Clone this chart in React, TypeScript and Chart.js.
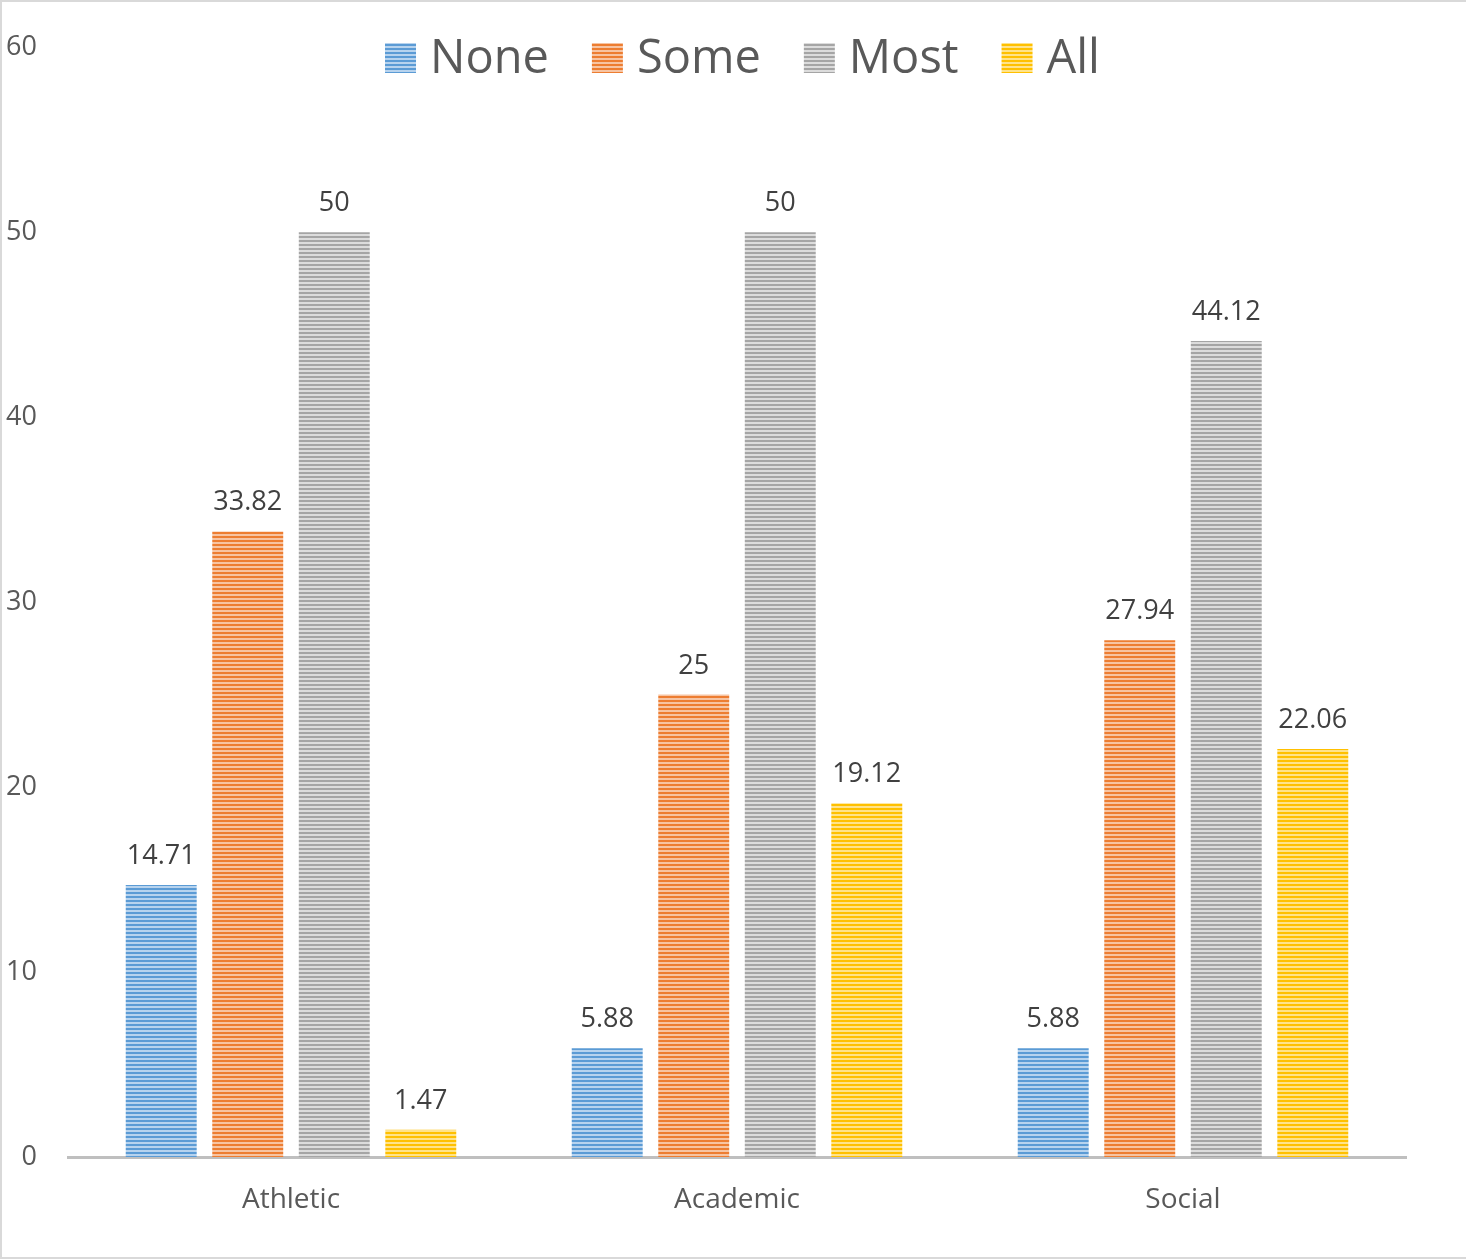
import React, { useEffect, useRef } from "react";
import { Chart, registerables } from "chart.js";

Chart.register(...registerables);

const categories = ["Athletic", "Academic", "Social"];
const seriesNames = ["None", "Some", "Most", "All"];
const noneValues = [14.71, 5.88, 5.88];
const someValues = [33.82, 25, 27.94];
const mostValues = [50, 50, 44.12];
const allValues = [1.47, 19.12, 22.06];
const yTicks = [0, 10, 20, 30, 40, 50, 60];

const seriesColors = ["#5b9bd5", "#ed7d31", "#a5a5a5", "#ffc000"];
const seriesTints = ["#b7d3ee", "#f7c4a2", "#dcdcdc", "#ffe38a"];

const FONT = '"Open Sans", "Noto Sans", sans-serif';
const TEXT = "#595959";

// Horizontal line fill: solid rows alternating with a pale tint.
function stripePattern(color: string, tint: string): CanvasPattern | string {
  const c = document.createElement("canvas");
  c.width = 4;
  c.height = 4;
  const g = c.getContext("2d");
  if (!g) return color;
  g.fillStyle = tint;
  g.fillRect(0, 0, 4, 4);
  g.fillStyle = color;
  g.fillRect(0, 0, 4, 2);
  return g.createPattern(c, "repeat") || color;
}

const valueLabels = {
  id: "valueLabels",
  afterDatasetsDraw(chart: any) {
    const ctx = chart.ctx;
    ctx.save();
    ctx.font = `27px ${FONT}`;
    ctx.fillStyle = "#404040";
    ctx.textAlign = "center";
    ctx.textBaseline = "alphabetic";
    chart.data.datasets.forEach((ds: any, di: number) => {
      const meta = chart.getDatasetMeta(di);
      meta.data.forEach((bar: any, i: number) => {
        ctx.fillText(String(ds.data[i]), bar.x, bar.y - 21);
      });
    });
    ctx.restore();
  },
};

const topLegend = {
  id: "topLegend",
  afterDraw(chart: any) {
    const ctx = chart.ctx;
    ctx.save();
    ctx.font = `47px ${FONT}`;
    const box = 31;
    const boxGap = 14;
    const itemGap = 43;
    const widths = chart.data.datasets.map((d: any) => ctx.measureText(d.label).width);
    const total =
      widths.reduce((a: number, b: number) => a + b, 0) +
      widths.length * (box + boxGap) +
      (widths.length - 1) * itemGap;
    let x = 742.5 - total / 2;
    const baseline = 73;
    chart.data.datasets.forEach((d: any, i: number) => {
      ctx.fillStyle = d.backgroundColor;
      ctx.fillRect(x, baseline - 30, box, 30);
      x += box + boxGap;
      ctx.fillStyle = TEXT;
      ctx.textBaseline = "alphabetic";
      ctx.textAlign = "left";
      ctx.fillText(d.label, x, baseline);
      x += widths[i] + itemGap;
    });
    ctx.restore();
  },
};

const frame = {
  id: "frame",
  afterDraw(chart: any) {
    const ctx = chart.ctx;
    ctx.save();
    ctx.strokeStyle = "#d9d9d9";
    ctx.lineWidth = 2;
    ctx.strokeRect(1, 1, chart.width + 10, chart.height - 3);
    ctx.restore();
  },
};

export default function App() {
  const ref = useRef<HTMLCanvasElement | null>(null);

  useEffect(() => {
    document.body.style.margin = "0";
    if (!ref.current) return;
    const seriesValues = [noneValues, someValues, mostValues, allValues];
    const chart = new Chart(ref.current, {
      type: "bar",
      data: {
        labels: categories,
        datasets: seriesNames.map((name, i) => ({
          label: name,
          data: seriesValues[i],
          backgroundColor: stripePattern(seriesColors[i], seriesTints[i]) as any,
          borderWidth: 0,
          categoryPercentage: 0.776,
          barPercentage: 0.82,
        })),
      },
      options: {
        responsive: false,
        animation: false,
        layout: { padding: { top: 46, right: 60, left: 0, bottom: 0 } },
        plugins: {
          legend: { display: false },
          tooltip: { enabled: false },
        },
        scales: {
          x: {
            grid: { display: false, drawTicks: false },
            border: { display: true, color: "#bfbfbf", width: 3 },
            ticks: { font: { size: 28, family: FONT }, color: TEXT, padding: 26 },
            afterFit(scale: any) {
              scale.height = 103;
            },
          },
          y: {
            min: 0,
            max: 60,
            grid: { display: false, drawTicks: false },
            border: { display: false },
            afterBuildTicks(scale: any) {
              scale.ticks = yTicks.map((v) => ({ value: v }));
            },
            ticks: { font: { size: 27, family: FONT }, color: TEXT, padding: 31 },
            afterFit(scale: any) {
              scale.width = 68;
            },
          },
        },
      },
      plugins: [valueLabels, topLegend, frame],
    });
    return () => chart.destroy();
  }, []);

  return (
    <div style={{ position: "absolute", left: 0, top: 0, width: 1466, height: 1260, background: "#fff" }}>
      <canvas ref={ref} width={1466} height={1260} />
    </div>
  );
}
